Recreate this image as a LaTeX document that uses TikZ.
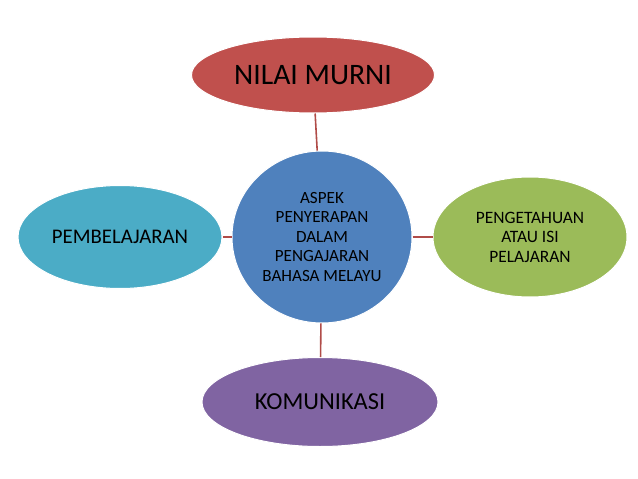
\documentclass[tikz,border=0pt]{standalone}
\usepackage{fontspec}
\setmainfont{Carlito}
\usetikzlibrary{shapes.geometric}
\definecolor{cred}{HTML}{C0504D}
\definecolor{cblue}{HTML}{4F81BD}
\definecolor{cgreen}{HTML}{9BBB59}
\definecolor{cpurple}{HTML}{8064A2}
\definecolor{caqua}{HTML}{4BACC6}
\definecolor{clink}{HTML}{B04C48}
\tikzset{
  blob/.style={ellipse, inner sep=0pt, draw=white, line width=1pt, align=center, text=black},
  link/.style={draw=clink, line width=1.6pt}
}
\begin{document}
\begin{tikzpicture}[x=1pt,y=-1pt]
\useasboundingbox (0,0) rectangle (638,479);
\node[blob, fill=cred, minimum width=243, minimum height=76, font=\fontsize{29.7}{36}\selectfont] (top) at (313,75) {NILAI MURNI};
\node[blob, fill=cblue, minimum width=180, minimum height=172, font=\fontsize{17.1}{19.5}\selectfont] (mid) at (322,237) {ASPEK\\PENYERAPAN\\DALAM\\PENGAJARAN\\BAHASA MELAYU};
\node[blob, fill=caqua, minimum width=204, minimum height=103, font=\fontsize{20.8}{24}\selectfont] (left) at (120,237) {PEMBELAJARAN};
\node[blob, fill=cgreen, minimum width=194, minimum height=120, font=\fontsize{17.4}{19.5}\selectfont] (right) at (530,237) {PENGETAHUAN\\ATAU ISI\\PELAJARAN};
\node[blob, fill=cpurple, minimum width=236, minimum height=89, font=\fontsize{24.4}{28}\selectfont] (bot) at (320,402) {KOMUNIKASI};
\draw[link] (top) -- (mid);
\draw[link] (mid) -- (left);
\draw[link] (mid) -- (right);
\draw[link] (mid) -- (bot);
\end{tikzpicture}
\end{document}
